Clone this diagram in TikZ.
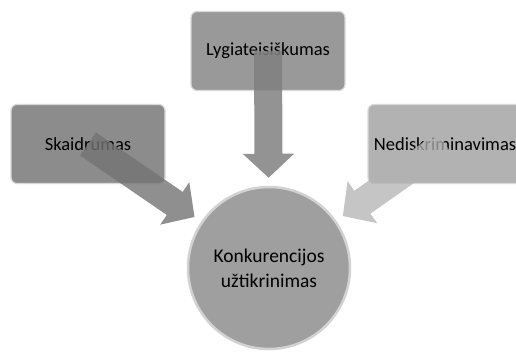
\documentclass[tikz,border=0pt]{standalone}
\usepackage{fontspec}
\setmainfont{Carlito}
\usetikzlibrary{arrows.meta}
\begin{document}
\begin{tikzpicture}[x=1pt,y=-1pt,
  box/.style={rounded corners=6pt, draw=gray!30, line width=1.2pt, minimum width=154pt, minimum height=79pt, font=\fontsize{18.5}{22}\selectfont},
  ring/.style={circle, draw=gray!35, line width=2.5pt, fill=gray!75, minimum size=162pt, inner sep=0pt, align=center, font=\fontsize{19.5}{25}\selectfont},
  flow/.style={line width=28pt, -{Triangle[width=50pt,length=24pt]}, shorten >=8pt}
]
\useasboundingbox (0,0) rectangle (516,351);

% 绘制方框
\foreach \name/\x/\y/\txt/\tone in {lyg/268/51/Lygiateisiškumas/gray!80, skaid/88/144/Skaidrumas/gray!90, nedis/445/144/Nediskriminavimas/gray!60}{
  \node[box, fill=\tone] (\name) at (\x,\y) {\txt};
}

% 绘制圆
\node[ring] (konk) at (269,268) {Konkurencijos\\užtikrinimas};

% 绘制箭头
\foreach \name/\tone/\op in {lyg/black!50/0.85, skaid/black!55/0.8, nedis/black!30/0.75}{
  \begin{scope}[transparency group, opacity=\op]
    \draw[flow, draw=\tone] (\name.center) -- (konk);
  \end{scope}
}
\end{tikzpicture}
\end{document}
